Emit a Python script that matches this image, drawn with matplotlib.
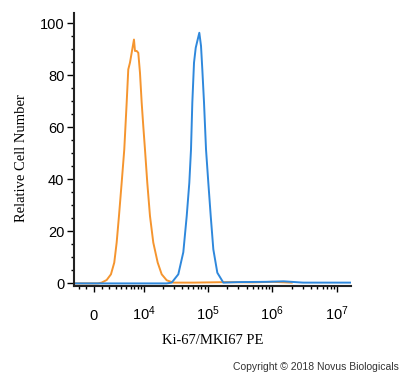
import matplotlib.pyplot as plt
from matplotlib.ticker import FixedLocator, NullFormatter

# 读图得到的数据 (荧光强度, 相对细胞数)
orange_x = [-2700, 500, 972, 1638, 2251, 2757, 3148, 3546, 4042, 4556, 5064, 5424, 5825,
            6247, 6855, 7134, 7629, 8120, 8671, 9253, 9832, 10483, 11425, 12628,
            14260, 16747, 19362, 23195, 29408, 60000, 200000, 500000, 1000000, 2000000]
orange_y = [0, 0, 0.3, 1.3, 3.5, 8, 15.7, 25.9, 38.7, 51.5, 69.5, 82.3, 84.9,
            88.7, 93.8, 89.4, 89.4, 88.7, 81, 69.5, 60.5, 51.5, 38.7, 25.9,
            15.7, 8, 3.5, 1.2, 0.3, 0.3, 0.5, 0.4, 0.6, 0.3]

blue_x = [-2700, 10000, 23195, 27768, 35179, 42073, 47508, 52125, 55360, 58020, 61640,
          65510, 69340, 74480, 79130, 82880, 88060, 94570, 102650, 111810,
          122670, 141470, 175200, 300000, 800000, 1500000, 3000000, 16500000]
blue_y = [0, 0, 0, 0.3, 3.5, 12, 25.9, 38.7, 51.5, 69.5, 84.9,
          90.6, 93.2, 96.4, 91.3, 82.3, 69.5, 51.5, 38.7, 25.9,
          13.1, 4.1, 0.3, 0.5, 0.6, 0.8, 0.3, 0.3]

major_x = [0, 1e4, 1e5, 1e6, 1e7]
major_x_labels = ['0', r'$10^{4}$', r'$10^{5}$', r'$10^{6}$', r'$10^{7}$']
minor_x = [-2000, -1000] + [k * 10 ** n for n in range(3, 7) for k in range(1, 10)]
minor_x = [v for v in minor_x if v not in major_x]

plt.rcParams['font.family'] = 'Liberation Sans'
plt.rcParams['mathtext.default'] = 'regular'

fig = plt.figure(figsize=(4, 3.78), dpi=100)
ax = fig.add_axes([74 / 400, 1 - 286 / 378, 277 / 400, 273 / 378])

ax.plot(orange_x, orange_y, color='#F5952F', lw=1.4)
ax.plot(blue_x, blue_y, color='#2F88DC', lw=1.4)

ax.set_xscale('asinh', linear_width=3500)
ax.set_xlim(-2700, 1.65e7)
ax.set_ylim(-1, 104)

ax.xaxis.set_major_locator(FixedLocator(major_x))
ax.xaxis.set_minor_locator(FixedLocator(minor_x))
ax.xaxis.set_minor_formatter(NullFormatter())
ax.set_xticklabels(major_x_labels)
ax.set_yticks([0, 20, 40, 60, 80, 100])
ax.set_yticks(range(0, 105, 5), minor=True)

for s in ['top', 'right']:
    ax.spines[s].set_visible(False)
for s in ['left', 'bottom']:
    ax.spines[s].set_linewidth(1.5)
    ax.spines[s].set_color('#222222')

ax.tick_params(axis='x', which='major', length=4.5, width=1, pad=20, labelsize=10.5)
ax.tick_params(axis='x', which='minor', length=2.5, width=1)
ax.tick_params(axis='y', which='major', length=5, width=1, pad=2, labelsize=10.5)
ax.tick_params(axis='y', which='minor', length=2.5, width=1)
plt.setp(ax.get_xticklabels(), va='baseline')

ax.set_ylabel('Relative Cell Number', family='Liberation Serif', fontsize=10.5)
ax.yaxis.set_label_coords(-0.165, 0.47)
ax.set_xlabel('Ki-67/MKI67 PE', family='Liberation Serif', fontsize=10.5)
ax.xaxis.set_label_coords(0.5, -0.175)

fig.text(0.997, 0.02, 'Copyright \u00a9 2018 Novus Biologicals', ha='right',
         fontsize=7.5, color='#333333')

plt.savefig('out.png', dpi=100)
